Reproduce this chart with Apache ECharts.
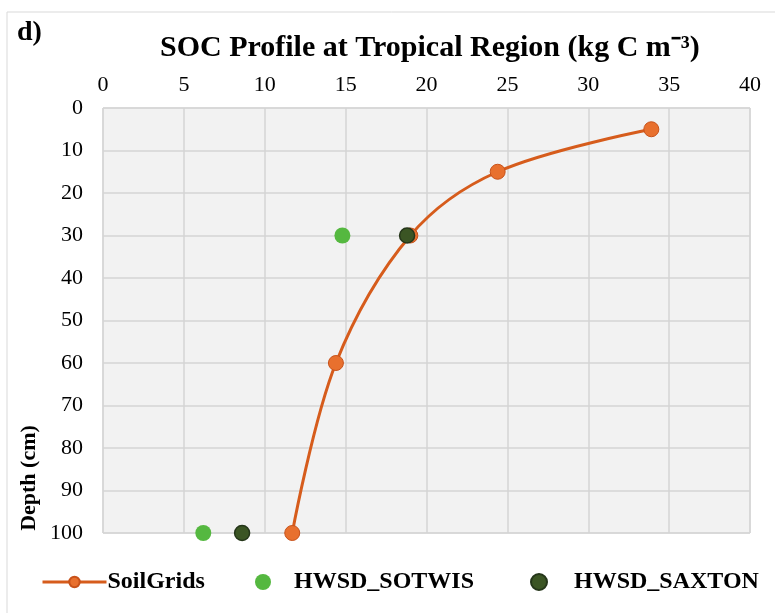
<!DOCTYPE html>
<html><head><meta charset="utf-8">
<script src="https://cdn.jsdelivr.net/npm/echarts@6/dist/echarts.min.js"></script>
<style>html,body{margin:0;padding:0;background:#fff}#c{width:775px;height:613px}</style>
</head><body><div id="c"></div>
<script>
const xTicks = [0,5,10,15,20,25,30,35,40];
const depthTicks = [0,10,20,30,40,50,60,70,80,90,100];
const soilGridsSOC = [33.9, 24.4, 19.0, 14.4, 11.7];
const soilGridsDepth = [5, 15, 30, 60, 100];
const sotwisSOC = [14.8, 6.2];
const sotwisDepth = [30, 100];
const saxtonSOC = [18.8, 8.6];
const saxtonDepth = [30, 100];

const zip = (a,b) => a.map((v,i)=>[v,b[i]]);
const F = '"Liberation Serif","Times New Roman",serif';
const chart = echarts.init(document.getElementById('c'));
chart.setOption({
  animation:false,
  backgroundColor:'#fff',
  title:[{text:'d)',left:12,top:14,textStyle:{fontFamily:F,fontWeight:'bold',fontSize:28,color:'#000'}},
    {text:'SOC Profile at Tropical Region (kg C m\u207B\u00B3)',left:155,top:28,textStyle:{fontFamily:F,fontWeight:'bold',fontSize:30,color:'#000'}}],
  graphic:[{type:'rect',shape:{x:7,y:12,width:775,height:613},style:{fill:'none',stroke:'#d9d9d9',lineWidth:1}},
    {type:'text',x:29,y:478,rotation:Math.PI/2,style:{text:'Depth (cm)',fontFamily:F,fontWeight:'bold',fontSize:22,fill:'#000',align:'center',verticalAlign:'middle'}}],
  grid:{left:103,right:25,top:108,bottom:80,show:true,backgroundColor:'#f2f2f2',borderColor:'#d0d0d0',borderWidth:1,outerBoundsMode:'none',containLabel:false},
  xAxis:{type:'value',position:'top',min:0,max:40,interval:5,
    axisLine:{show:false},axisTick:{show:false},
    axisLabel:{fontFamily:F,fontSize:22,color:'#000',margin:12,formatter:v=>xTicks.includes(v)?String(v):''},
    splitLine:{lineStyle:{color:'#d4d4d4',width:1.5}}},
  yAxis:{type:'value',inverse:true,min:0,max:100,interval:10,
    axisLine:{show:false},axisTick:{show:false},
    axisLabel:{fontFamily:F,fontSize:22,color:'#000',margin:20,formatter:v=>depthTicks.includes(v)?String(v):''},
    splitLine:{lineStyle:{color:'#d4d4d4',width:1.5}}},
  legend:[
    {data:['SoilGrids'],left:36,top:565,itemWidth:64,itemHeight:13,itemGap:0,lineStyle:{width:3},textStyle:{fontFamily:F,fontWeight:'bold',fontSize:24,color:'#000',padding:[0,0,0,-4]}},
    {data:['HWSD_SOTWIS'],left:250,top:565,itemWidth:24,itemHeight:16,textStyle:{fontFamily:F,fontWeight:'bold',fontSize:24,color:'#000',padding:[0,0,0,14]}},
    {data:['HWSD_SAXTON'],left:525,top:565,itemWidth:24,itemHeight:16,textStyle:{fontFamily:F,fontWeight:'bold',fontSize:24,color:'#000',padding:[0,0,0,18]}}
  ],
  series:[
    {name:'SoilGrids',type:'line',smooth:0.35,data:zip(soilGridsSOC,soilGridsDepth),
      symbol:'circle',symbolSize:15,lineStyle:{color:'#d65c1c',width:3},itemStyle:{color:'#e8702e',borderColor:'#c8521a',borderWidth:1,opacity:1},z:2},
    {name:'HWSD_SOTWIS',type:'scatter',data:zip(sotwisSOC,sotwisDepth),symbol:'circle',symbolSize:16,
      itemStyle:{color:'#55b840',opacity:1},z:3},
    {name:'HWSD_SAXTON',type:'scatter',data:zip(saxtonSOC,saxtonDepth),symbol:'circle',symbolSize:15,
      itemStyle:{color:'#3b5524',borderColor:'#25361a',borderWidth:1.5,opacity:1},z:4}
  ]
});
</script></body></html>
